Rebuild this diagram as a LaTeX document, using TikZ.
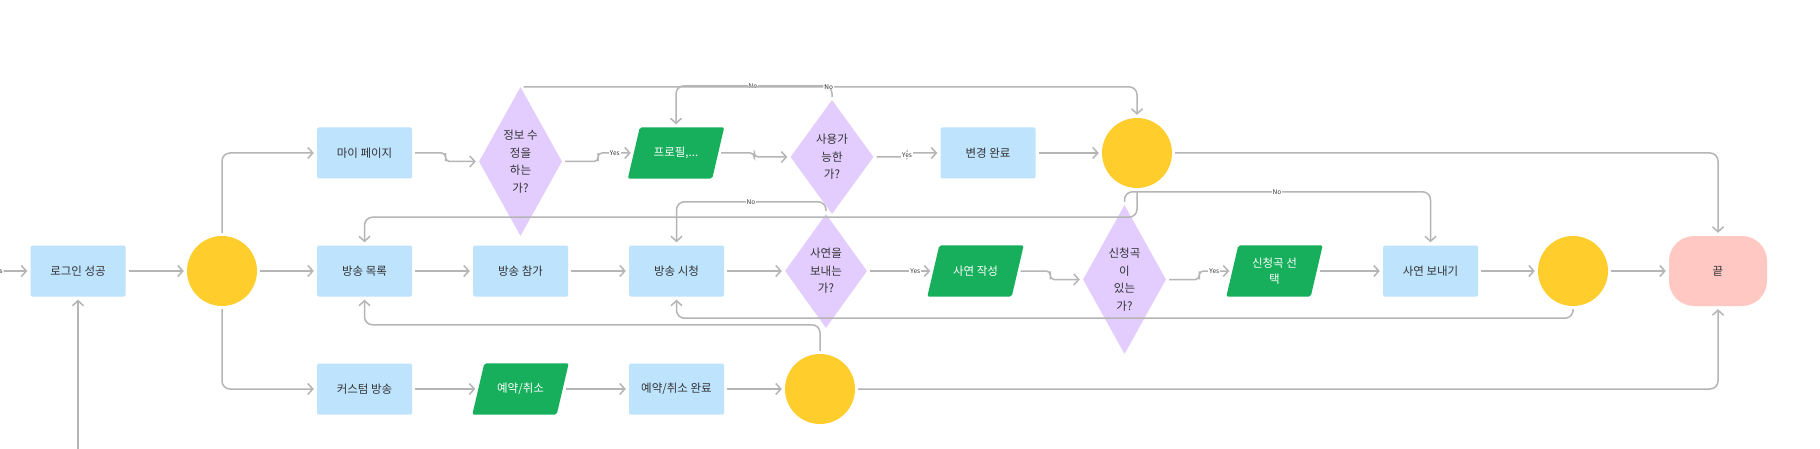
\documentclass[tikz,border=0pt]{standalone}
\usepackage{fontspec}
\newfontfamily\kr{Noto Sans CJK KR}
\usetikzlibrary{shapes.geometric,arrows.meta,calc,backgrounds}
\definecolor{boxblue}{HTML}{BEE3FD}
\definecolor{dlav}{HTML}{E3CCFE}
\definecolor{pgreen}{HTML}{17AF5C}
\definecolor{cyellow}{HTML}{FFCD2C}
\definecolor{epink}{HTML}{FFC8C3}
\definecolor{lgray}{HTML}{B5B5B5}
\definecolor{tdark}{HTML}{333333}
\begin{document}
\begin{tikzpicture}[x=1pt,y=-1pt,
  base/.style={font=\kr\fontsize{11.5}{17.5}\selectfont, align=center, inner sep=0pt, text=tdark},
  procbox/.style={base, rectangle, fill=boxblue, minimum width=95, minimum height=51, rounded corners=1.5},
  decide/.style={base, diamond, fill=dlav, aspect=0.557},
  iobox/.style={base, rectangle, minimum width=84, minimum height=51, text=white},
  hub/.style={circle, fill=cyellow, minimum size=70, inner sep=0pt},
  endbox/.style={base, rectangle, fill=epink, minimum width=98, minimum height=70, rounded corners=25},
  conn/.style={draw=lgray, line width=1.5, rounded corners=8, -{Straight Barb[length=5,width=11]}, shorten >=3, shorten <=3},
  lbl/.style={font=\kr\fontsize{6.5}{7}\selectfont, fill=white, inner sep=1, text=tdark},
]
\useasboundingbox (0,0) rectangle (1820,449);

% nodes
\node[procbox] (login) at (78,271) {로그인 성공};
\node[hub] (c1) at (222,271) {};
\node[procbox] (mypage) at (364.5,153) {마이 페이지};
\node[decide, minimum width=83, minimum height=149] (q1) at (520.5,161.5) {정보 수\\정을\\하는\\가?};
\node[iobox] (profile) at (676,153) {프로필,...};
\node[decide, minimum width=83, minimum height=114] (q2) at (832,157) {사용가\\능한\\가?};
\node[procbox] (done1) at (988,153) {변경 완료};
\node[hub] (c2) at (1137,153) {};

\node[procbox] (list) at (364.5,271) {방송 목록};
\node[procbox] (join) at (520.5,271) {방송 참가};
\node[procbox] (watch) at (676.5,271) {방송 시청};
\node[decide, minimum width=82, minimum height=114] (q3) at (826,271) {사연을\\보내는\\가?};
\node[iobox] (write) at (975.5,271) {사연 작성};
\node[decide, minimum width=83, minimum height=149] (q4) at (1124.5,279.5) {신청곡\\이\\있는\\가?};
\node[iobox, font=\kr\fontsize{11.5}{16.5}\selectfont] (song) at (1274.5,271) {신청곡 선\\택};
\node[procbox] (send) at (1430.5,271) {사연 보내기};
\node[hub] (c4) at (1573,271) {};
\node[endbox] (fin) at (1718,271) {끝};

\node[procbox] (custom) at (364.5,389) {커스텀 방송};
\node[iobox] (resv) at (520.5,389) {예약/취소};
\node[procbox] (resvdone) at (676.5,389) {예약/취소 완료};
\node[hub] (c5) at (820,389) {};

\begin{scope}[on background layer]
\fill[white] (0,0) rectangle (1820,449);
\foreach \n in {profile,write,song,resv}{
  \fill[pgreen, rounded corners=2] ([xshift=6]\n.north west) -- ([xshift=6]\n.north east) -- ([xshift=-6]\n.south east) -- ([xshift=-6]\n.south west) -- cycle;}
\end{scope}

\coordinate (in) at (-40,271);
\coordinate (bot) at (78,470);

% connectors
\draw[conn] (in) -- node[lbl,pos=0.535]{Yes} (login);
\draw[conn] (bot) -- (login);
\draw[conn] (login) -- (c1);
\draw[conn] (c1.north) |- (mypage.west);
\draw[conn] (c1) -- (list);
\draw[conn] (c1.south) |- (custom.west);

\draw[conn, rounded corners=4] (mypage.east) -| ($(mypage.east)!0.5!(q1.west)$) |- (q1.west);
\draw[conn, rounded corners=4] (q1.east) -| ($(q1.east)!0.5!(profile.west)$) |- (profile.west);
\node[lbl] at ($(profile.west)+(-19,0)$) {Yes};
\draw[conn, rounded corners=4] (profile.east) -| ($(profile.east)!0.5!(q2.west)$) |- (q2.west);
\draw[conn, rounded corners=4] (q2.east) -| ($(q2.east)!0.5!(done1.west)$) |- (done1.west);
\node[lbl] at ($(q2.east)!0.5!(done1.west)$) {Yes};
\draw[conn] (done1) -- (c2);
\draw[conn] (c2.east) -| (fin.north);

\draw[conn] (q2.north) -- ++(0,-14) -| (profile.north);
\node[lbl] at ($(q2.north)+(-79,-14)$) {No};
\draw[conn] (q1.north) -| node[lbl,pos=0.25]{No} (c2.north);

\draw[conn] (c2.south) -- ++(0,29) -| (list.north);
\draw[conn] (list) -- (join);
\draw[conn] (join) -- (watch);
\draw[conn] (watch) -- (q3);
\draw[conn] (q3.north) -- ++(0,-12) -| (watch.north);
\node[lbl] at ($(q3.north)+(-75,-12)$) {No};
\draw[conn] (q3.east) -- (write.west);
\node[lbl] at ($(write.west)+(-18,0)$) {Yes};
\draw[conn, rounded corners=4] (write.east) -| ($(write.east)!0.5!(q4.west)$) |- (q4.west);
\draw[conn, rounded corners=4] (q4.east) -| ($(q4.east)!0.5!(song.west)$) |- (song.west);
\node[lbl] at ($(song.west)+(-18,0)$) {Yes};
\draw[conn] (q4.north) -- ++(0,-13) -| (send.north);
\node[lbl] at ($(q4.north)+(152.5,-13)$) {No};
\draw[conn] (song) -- (send);
\draw[conn] (send) -- (c4);
\draw[conn] (c4) -- (fin);
\draw[conn] (c4.south) -- ++(0,12) -| (watch.south);

\draw[conn] (custom) -- (resv);
\draw[conn] (resv) -- (resvdone);
\draw[conn] (resvdone) -- (c5);
\draw[conn] (c5.north) -- ++(0,-29) -| (list.south);
\draw[conn] (c5.east) -| (fin.south);
\end{tikzpicture}
\end{document}
